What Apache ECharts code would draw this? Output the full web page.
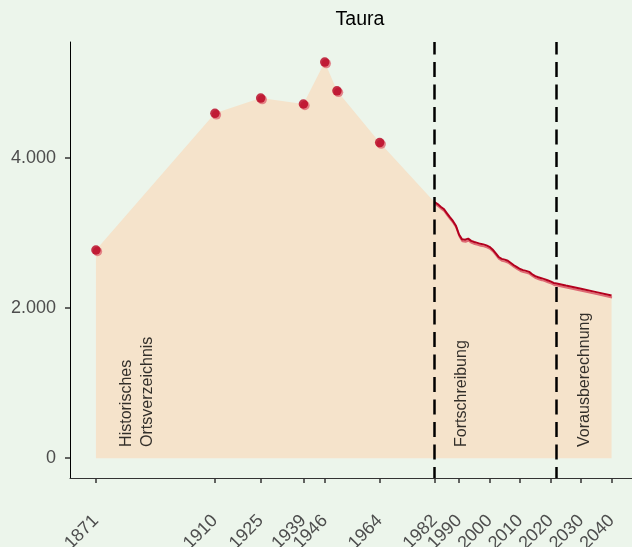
<!DOCTYPE html>
<html><head><meta charset="utf-8">
<script src="https://cdn.jsdelivr.net/npm/echarts@6/dist/echarts.min.js"></script>
<style>html,body{margin:0;padding:0;background:#ecf5eb}#c{width:632px;height:547px}</style>
</head><body><div id="c"></div>
<script>
// Historisches Ortsverzeichnis
const histYears = [1871, 1910, 1925, 1939, 1946, 1950, 1964];
const histPop   = [2773, 4594, 4797, 4718, 5276, 4894, 4204];
// Fortschreibung
const fortYears = [1982,1983,1984,1985,1986,1987,1988,1989,1990,1991,1992,1993,1994,1995,1996,1997,1998,1999,2000,2001,2002,2003,2004,2005,2006,2007,2008,2009,2010,2011,2012,2013,2014,2015,2016,2017,2018,2019,2020,2021,2022];
const fortPop   = [3410,3385,3350,3320,3265,3210,3160,3095,2980,2915,2910,2925,2895,2880,2868,2855,2848,2835,2815,2780,2730,2680,2655,2645,2630,2600,2570,2545,2520,2505,2495,2482,2450,2425,2410,2398,2385,2370,2355,2335,2328];
// Vorausberechnung
const projYears = [2025, 2030, 2035, 2040];
const projPop   = [2300, 2258, 2212, 2166];
// axes
const xTicks = [1871, 1910, 1925, 1939, 1946, 1964, 1982, 1990, 2000, 2010, 2020, 2030, 2040];
const yTicks = [0, 2000, 4000];
const breakYears = [1982, 2022];
// annotations
const annotYears  = [1884.6, 1990.9, 2031.3];
const annotPop    = [150, 150, 150];
const annotLabels = ['Historisches\nOrtsverzeichnis', 'Fortschreibung', 'Vorausberechnung'];

const zip = (a, b) => a.map((v, i) => [v, b[i]]);
const histPts = zip(histYears, histPop);
const linePts = zip(fortYears, fortPop).concat(zip(projYears, projPop));
const areaPts = histPts.concat(linePts);

const fmt = v => String(v).replace(/\B(?=(\d{3})+(?!\d))/g, '.');
const FONT = 'Liberation Sans, Arial, sans-serif';

const chart = echarts.init(document.getElementById('c'), null, {renderer: 'canvas'});
chart.setOption({
  backgroundColor: '#ecf5eb',
  animation: false,
  title: {
    text: 'Taura', left: 355, top: 5, textAlign: 'center',
    textStyle: {fontFamily: FONT, fontSize: 19.5, fontWeight: 'normal', color: '#000'}
  },
  grid: {left: 70, right: 0, top: 42, bottom: 69, outerBoundsMode: 'none', containLabel: false},
  xAxis: {
    type: 'value', min: 1862.5, max: 2046.7,
    splitLine: {show: false},
    axisLine: {show: true, onZero: false, lineStyle: {color: '#333', width: 1}},
    axisTick: {show: true, customValues: xTicks, length: 5, lineStyle: {color: '#333', width: 1.5}},
    axisLabel: {show: true, customValues: xTicks, rotate: 45, margin: 40, color: '#4d4d4d',
      fontFamily: FONT, fontSize: 18, formatter: v => String(v)}
  },
  yAxis: {
    type: 'value', min: -264, max: 5544,
    splitLine: {show: false},
    axisLine: {show: true, onZero: false, lineStyle: {color: '#000', width: 1}},
    axisTick: {show: true, customValues: yTicks, length: 5, lineStyle: {color: '#333', width: 1.5}},
    axisLabel: {show: true, customValues: yTicks, margin: 14, color: '#4d4d4d',
      fontFamily: FONT, fontSize: 18, formatter: v => fmt(v)}
  },
  series: [
    {
      type: 'line', data: areaPts, symbol: 'none', silent: true,
      lineStyle: {width: 0, opacity: 0},
      areaStyle: {color: '#f5e3cb', opacity: 1, origin: 0},
      z: 1
    },
    {
      type: 'line', data: linePts, symbol: 'none', silent: true,
      lineStyle: {color: '#b3001e', width: 2, shadowColor: '#de6a74', shadowBlur: 0, shadowOffsetX: 0.5, shadowOffsetY: 2},
      z: 3
    },
    {
      type: 'scatter', data: histPts, symbolSize: 9.5, silent: true,
      itemStyle: {color: '#b8001f', shadowColor: '#de6a74', shadowBlur: 0, shadowOffsetX: 1.5, shadowOffsetY: 1.5},
      z: 4
    },
    {
      type: 'scatter', data: zip(annotYears, annotPop).map((p, i) => ({value: p, name: annotLabels[i]})),
      symbolSize: 1, itemStyle: {color: 'rgba(0,0,0,0)'}, silent: true,
      label: {show: true, position: 'inside', rotate: 90, align: 'left', verticalAlign: 'middle',
        formatter: p => p.name, color: '#000', fontFamily: FONT,
        fontSize: 16, lineHeight: 21},
      z: 5
    },
    {
      type: 'line', data: [], silent: true,
      markLine: {
        silent: true, symbol: 'none', label: {show: false},
        lineStyle: {color: '#000', width: 2.5, type: [15, 7.5], dashOffset: 4},
        data: breakYears.map(y => ({xAxis: y}))
      },
      z: 6
    }
  ]
});
</script>
</body></html>
